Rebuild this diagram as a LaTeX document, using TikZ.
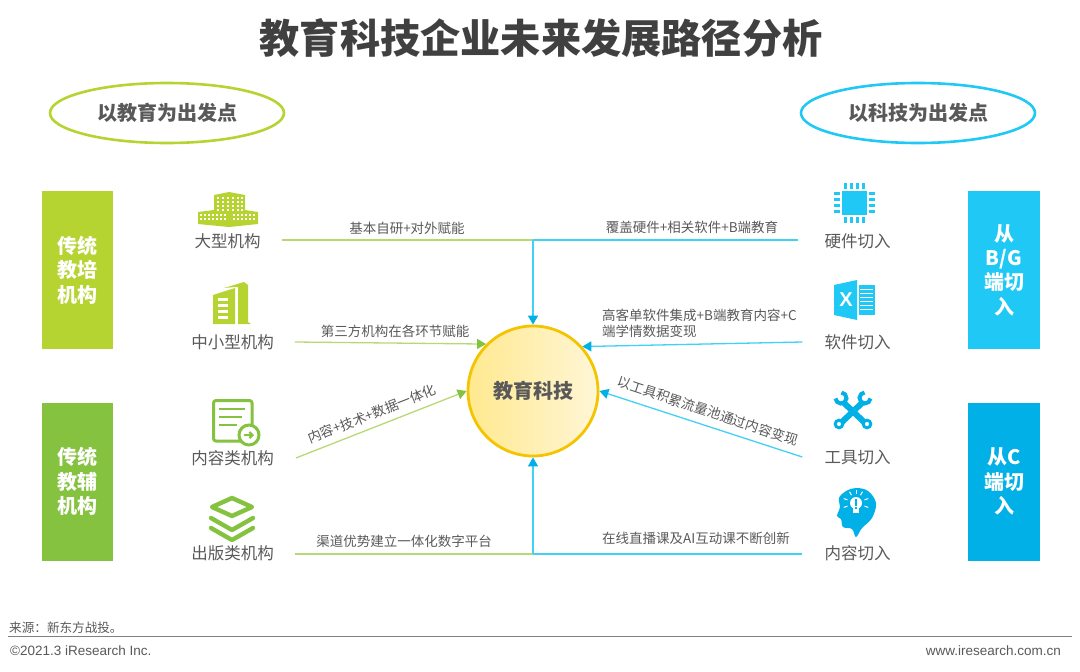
\documentclass[tikz,border=0pt]{standalone}
\usepackage{fontspec}
\setmainfont{Noto Sans CJK SC}
\newfontfamily\latinfont{Liberation Sans}
\usetikzlibrary{arrows.meta,shapes.geometric}
\definecolor{titlegray}{HTML}{404040}
\definecolor{textgray}{HTML}{595959}
\definecolor{limegreen}{HTML}{B5D432}
\definecolor{leafgreen}{HTML}{84C23F}
\definecolor{skyblue}{HTML}{1FC8F5}
\definecolor{deepblue}{HTML}{00B0E6}
\definecolor{goldring}{HTML}{F5C400}
\definecolor{sunyellow}{HTML}{FFE98F}
\definecolor{paleyellow}{HTML}{FFF6D6}
\tikzset{
  headlabel/.style={text=textgray,inner sep=0pt,font=\bfseries\fontsize{20}{24}\selectfont},
  startoval/.style={draw=#1,line width=2.6pt,ellipse,minimum width=234pt,minimum height=60pt,inner sep=0pt},
  sidebar/.style={fill=#1,text=white,inner sep=0pt,minimum width=71.5pt,minimum height=158pt,align=center,font=\bfseries\fontsize{20}{24.3}\selectfont},
  unitlabel/.style={text=textgray,inner sep=0pt,font=\fontsize{16.5}{20}\selectfont},
  pathlabel/.style={text=textgray,inner sep=0pt,font=\fontsize{13.5}{16}\selectfont},
  greenline/.style={draw=leafgreen!60!limegreen!70,line width=1.3pt},
  blueline/.style={draw=skyblue!85,line width=1.3pt},
  greenarrow/.style={greenline,-{Triangle[width=10pt,length=9pt,color=leafgreen]}},
  bluearrow/.style={blueline,-{Triangle[width=10pt,length=9pt,color=deepblue]}},
}
\begin{document}
\begin{tikzpicture}[x=1pt,y=-1pt]
  \useasboundingbox (0,0) rectangle (1080,672);
  \node[text=titlegray,inner sep=0pt,font=\bfseries\fontsize{40.2}{46}\selectfont] (title) at (541,38) {教育科技企业未来发展路径分析};
  \node[startoval=limegreen] (eduoval) at (167,113) {};
  \node[startoval=skyblue] (techoval) at (918,113) {};
  \node[headlabel] (edustart) at (167,113) {以教育为出发点};
  \node[headlabel] (techstart) at (918,113) {以科技为出发点};

  \node[sidebar=limegreen] (trainbar) at (77.5,270) {传统\\教培\\机构};
  \node[sidebar=leafgreen] (tutorbar) at (77.5,481.5) {传统\\教辅\\机构};
  \node[sidebar=skyblue] (bgbar) at (1004,270) {从\\B/G\\端切\\入};
  \node[sidebar=deepblue] (cbar) at (1004,481.5) {从C\\端切\\入};

  \node[unitlabel] (large) at (227.5,241) {大型机构};
  \node[unitlabel] (medium) at (232.5,342) {中小型机构};
  \node[unitlabel] (content) at (232.5,458) {内容类机构};
  \node[unitlabel] (publish) at (232.5,553) {出版类机构};
  \node[unitlabel] (hardcut) at (857.5,241) {硬件切入};
  \node[unitlabel] (softcut) at (857.5,342) {软件切入};
  \node[unitlabel] (toolcut) at (857.5,457) {工具切入};
  \node[unitlabel] (contcut) at (857.5,553) {内容切入};

  \node[circle,draw=goldring,line width=2.8pt,left color=sunyellow,right color=paleyellow,minimum size=130pt,inner sep=0pt,text=textgray,font=\bfseries\fontsize{20}{24}\selectfont] (tech) at (533,391) {\raisebox{1pt}{教育科技}};

  \coordinate (topjoin) at (533,240);
  \coordinate (bottomjoin) at (533,554);
  \draw[greenline,shorten <=21pt] (large.east |- topjoin) -- (topjoin);
  \draw[blueline,shorten <=26pt] (hardcut.west |- topjoin) -- (topjoin);
  \draw[bluearrow] (topjoin) -- (tech.north);
  \draw[greenarrow] ([xshift=21pt]medium.east) -- (tech.135);
  \draw[greenarrow] ([xshift=22pt]content.east) -- (tech.180);
  \draw[greenline,shorten <=21pt] (publish.east |- bottomjoin) -- (bottomjoin);
  \draw[blueline,shorten <=22pt] (contcut.west |- bottomjoin) -- (bottomjoin);
  \draw[bluearrow] (bottomjoin) -- (tech.south);
  \draw[bluearrow] ([xshift=-22pt]softcut.west) -- (tech.42);
  \draw[bluearrow] ([xshift=-22pt]toolcut.west) -- (tech.0);

  \node[pathlabel] (largetext) at (407,228) {基本自研+对外赋能};
  \node[pathlabel] (mediumtext) at (395,331) {第三方机构在各环节赋能};
  \node[pathlabel,rotate=21.5] (contenttext) at (372,414) {内容+技术+数据一体化};
  \node[pathlabel] (publishtext) at (404,541) {渠道优势建立一体化数字平台};
  \node[pathlabel] (hardtext) at (692,227) {覆盖硬件+相关软件+B端教育};
  \node[pathlabel,align=left,anchor=west] (softtext) at (602,323) {高客单软件集成+B端教育内容+C\\端学情数据变现};
  \node[pathlabel,rotate=-18.5] (tooltext) at (708,411) {以工具积累流量池通过内容变现};
  \node[pathlabel] (conttext) at (696,538) {在线直播课及AI互动课不断创新};

  % big building
  \fill[limegreen] (214,195) -- (229,192) -- (245,195) -- (245,210) -- (258,212) -- (258,224) -- (229,227) -- (198,224) -- (198,212) -- (214,210) -- cycle;
  \foreach \wx in {217,222,227,232,237,241}
    \foreach \wy in {197,201,205,209}
      \fill[white] (\wx,\wy) rectangle ++(2.4,2.2);
  \foreach \wx in {200,204,208,212,216,220,224,233,237,241,245,249,253}
    \foreach \wy in {214,218}
      \fill[white] (\wx,\wy) rectangle ++(2.2,2);
  % small building
  \fill[limegreen] (213,295) -- (235,288) -- (235,324) -- (213,324) -- cycle;
  \fill[limegreen] (224,288) -- (244,282) -- (248,285) -- (248,322) -- (251,324) -- (238,324) -- (238,287) -- (235,287) -- cycle;
  \foreach \wy in {298,304,310,316}
    \fill[white] (218,\wy) rectangle ++(10,3);
  % document icon
  \draw[leafgreen,line width=3pt,rounded corners=2.5pt] (213.5,400.5) rectangle (252,441);
  \foreach \wy/\wx in {409/245,417/242,425/237}
    \draw[leafgreen,line width=2.6pt] (219,\wy) -- (\wx,\wy);
  \draw[leafgreen,line width=3pt,fill=white] (249,435) circle (10);
  \draw[leafgreen,line width=2.2pt,-{Straight Barb[length=3pt,width=6pt]}] (244,435) -- (254,435);
  % layers icon
  \draw[leafgreen,line width=4.4pt,line join=round] (212,507) -- (232,498) -- (252,507) -- (232,516) -- cycle;
  \draw[leafgreen,line width=4.4pt,line cap=round,line join=round] (211,518) -- (232,530) -- (253,518);
  \draw[leafgreen,line width=4.4pt,line cap=round,line join=round] (211,528) -- (232,540) -- (253,528);
  % chip
  \fill[skyblue] (842,191) rectangle (867,215);
  \foreach \pin in {0,1,2,3} {
    \draw[skyblue,line width=3pt] (845+6*\pin,183) -- ++(0,6);
    \draw[skyblue,line width=3pt] (845+6*\pin,217) -- ++(0,6);
    \draw[skyblue,line width=3pt] (834,193+6*\pin) -- ++(6,0);
    \draw[skyblue,line width=3pt] (869,193+6*\pin) -- ++(6,0);
  }
  % spreadsheet
  \fill[skyblue] (834,285) -- (857,280) -- (857,320) -- (834,315) -- cycle;
  \fill[skyblue] (859,285) rectangle (875,315);
  \foreach \wy in {289,293,297,301,305,309}
    \fill[white] (860,\wy) rectangle ++(13,1.3);
  \node[text=white,inner sep=0pt,font=\latinfont\bfseries\fontsize{20}{22}\selectfont] (xmark) at (846,299.5) {X};
  % wrenches
  \draw[deepblue,line width=6pt] (843,402) -- (864,422);
  \draw[deepblue,line width=6pt] (863,402) -- (842,422);
  \draw[deepblue,line width=3pt,fill=white] (839,424) circle (3.8);
  \draw[deepblue,line width=3pt,fill=white] (867,424) circle (3.8);
  \draw[deepblue,line width=4pt] (841,398) ++(275:5.5) arc[start angle=275,end angle=535,radius=5.5];
  \draw[deepblue,line width=4pt] (865,398) ++(365:5.5) arc[start angle=365,end angle=625,radius=5.5];
  % head with bulb
  \fill[deepblue] plot[smooth cycle,tension=0.6] coordinates {(839,498) (846,491) (856,488) (868,491) (876,503) (872,518) (862,528) (856,537) (852,529) (843,527) (841,519) (837,516) (840,507)};
  \fill[white] (856,503) circle (6);
  \fill[white] (853,507) rectangle (859,513);
  \fill[deepblue] (855,499) rectangle (857,506);
  \fill[deepblue] (855,507.2) rectangle (857,509);
  \foreach \ray in {200,240,270,300,340,20,160}
    \draw[white,line width=1pt] (856,503) ++(\ray:9) -- ++(\ray:4);

  \node[inner sep=0pt,anchor=west,text=textgray,font=\fontsize{12.6}{15}\selectfont] (source) at (9,628) {来源：新东方战投。};
  \coordinate (ruleleft) at (8,636.5);
  \coordinate (ruleright) at (1072,636.5);
  \draw[gray,line width=1.8pt] (ruleleft) -- (ruleright);
  \node[inner sep=0pt,anchor=west,text=textgray,font=\latinfont\fontsize{13.5}{15}\selectfont] (copyright) at (10,651) {©2021.3 iResearch Inc.};
  \node[inner sep=0pt,anchor=east,text=textgray,font=\latinfont\fontsize{13.5}{15}\selectfont] (website) at (1061,651) {www.iresearch.com.cn};
\end{tikzpicture}
\end{document}
